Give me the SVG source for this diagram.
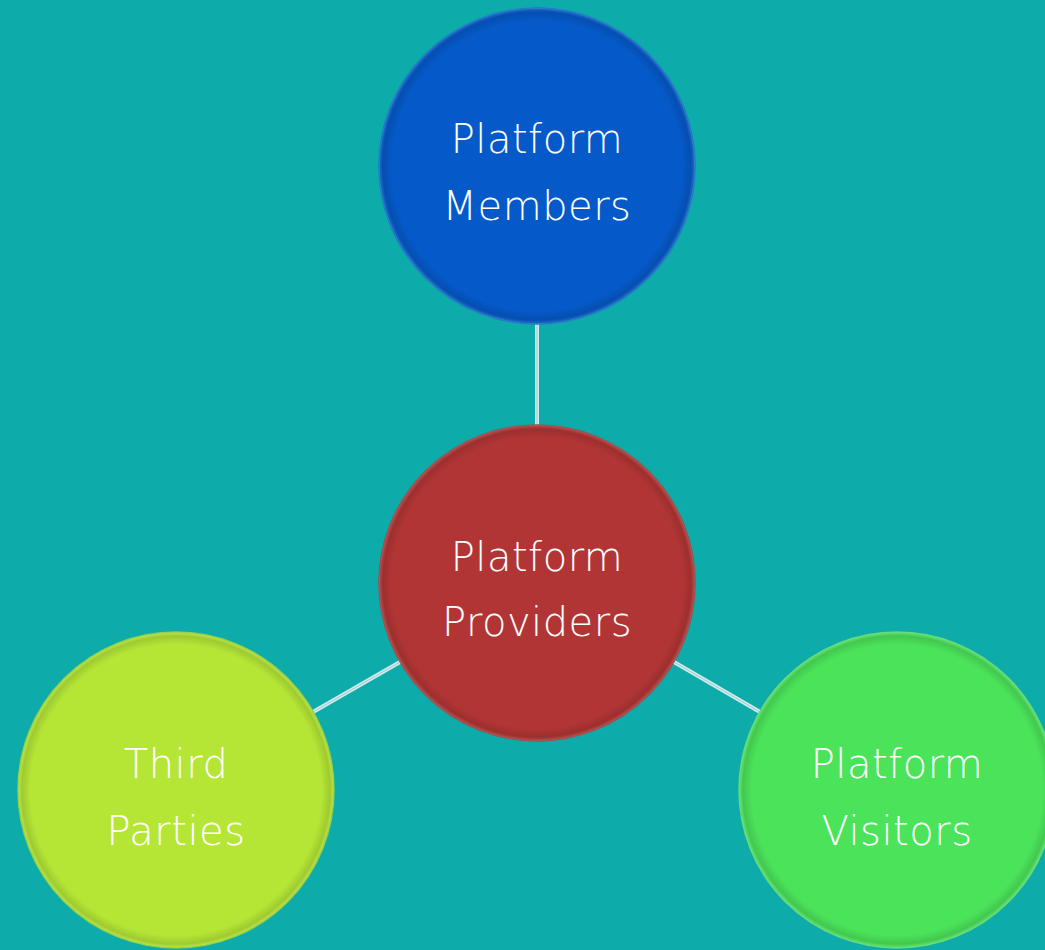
<svg xmlns="http://www.w3.org/2000/svg" width="1045" height="950" viewBox="0 0 1045 950">
<style>
.lbl{font-family:"DejaVu Sans","Liberation Sans",sans-serif;font-size:40px;font-weight:300;fill:#ffffff;text-anchor:middle;letter-spacing:0.5px}
.edge{stroke:#d4ecee;stroke-width:4;fill:none}
.edgein{stroke:#9cc7cc;stroke-width:1;fill:none}
</style>
<defs>
<radialGradient id="bevel" cx="0.5" cy="0.5" r="0.5">
<stop offset="0.92" stop-color="#000" stop-opacity="0"/>
<stop offset="0.975" stop-color="#000" stop-opacity="0.12"/>
<stop offset="1" stop-color="#fff" stop-opacity="0.12"/>
</radialGradient>
</defs>
<rect width="1045" height="950" fill="#0DACAA"/>
<g id="connectors">
<line class="edge" x1="537" y1="324" x2="537" y2="425"/>
<line class="edge" x1="400" y1="662" x2="313" y2="712"/>
<line class="edge" x1="674" y1="662" x2="760" y2="712"/>
<line class="edgein" x1="537" y1="324" x2="537" y2="425"/>
<line class="edgein" x1="400" y1="662" x2="313" y2="712"/>
<line class="edgein" x1="674" y1="662" x2="760" y2="712"/>
</g>
<g id="node-members">
<circle cx="537" cy="166" r="158" fill="#0559C8" stroke="#1a74c8" stroke-width="1.5"/>
<circle cx="537" cy="166" r="158" fill="url(#bevel)"/>
<text class="lbl" x="537" y="153">Platform</text>
<text class="lbl" x="537" y="220">Members</text>
</g>
<g id="node-providers">
<circle cx="537" cy="583" r="158" fill="#B23535" stroke="#9a4a4a" stroke-width="1.5"/>
<circle cx="537" cy="583" r="158" fill="url(#bevel)"/>
<text class="lbl" x="537" y="571">Platform</text>
<text class="lbl" x="537" y="636">Providers</text>
</g>
<g id="node-third">
<circle cx="176" cy="790" r="158" fill="#B5E636" stroke="#8fd040" stroke-width="1.5"/>
<circle cx="176" cy="790" r="158" fill="url(#bevel)"/>
<text class="lbl" x="176" y="778">Third</text>
<text class="lbl" x="176" y="845">Parties</text>
</g>
<g id="node-visitors">
<circle cx="897" cy="790" r="158" fill="#4BE35A" stroke="#5fd87a" stroke-width="1.5"/>
<circle cx="897" cy="790" r="158" fill="url(#bevel)"/>
<text class="lbl" x="897" y="778">Platform</text>
<text class="lbl" x="897" y="845">Visitors</text>
</g>
</svg>
